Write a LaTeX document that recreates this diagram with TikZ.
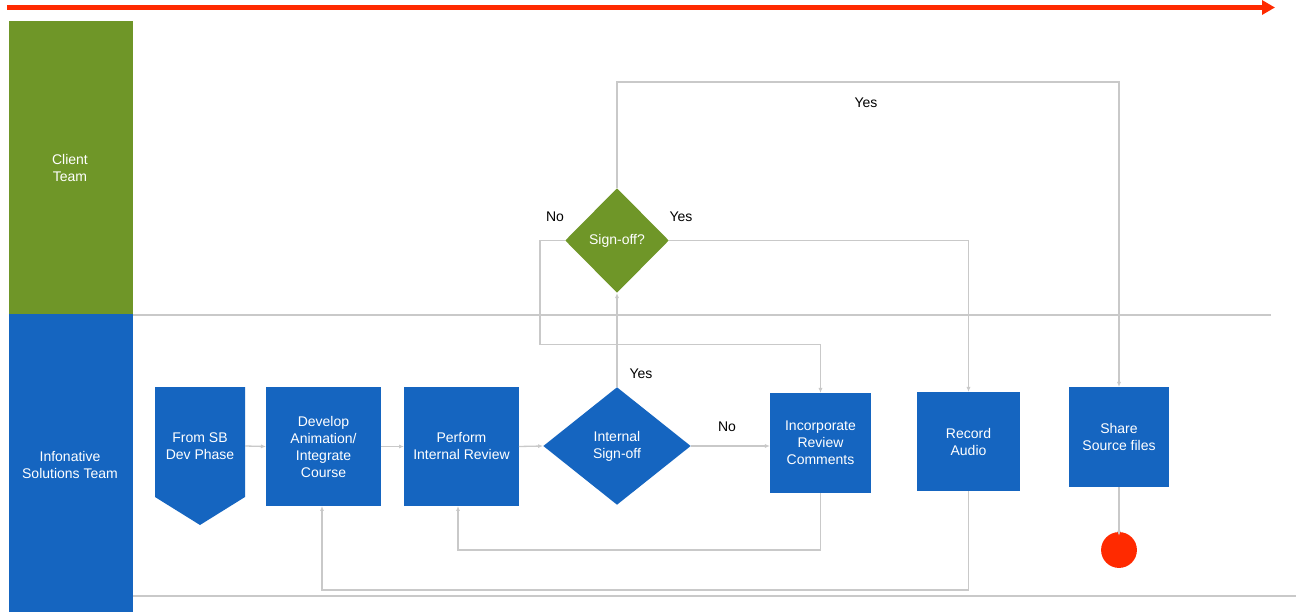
\documentclass[tikz,border=0pt]{standalone}
\usepackage{fontspec}
\setmainfont{Liberation Sans}
\usetikzlibrary{shapes.geometric,arrows.meta}
\definecolor{laneGreen}{HTML}{6F9628}
\definecolor{laneBlue}{HTML}{1565C0}
\definecolor{flowRed}{HTML}{FF2A00}
\definecolor{wire}{HTML}{C9C9C9}
\tikzset{
  lbl/.style={font=\fontsize{14bp}{17bp}\selectfont, align=center, inner sep=0},
  proc/.style={lbl, fill=laneBlue, text=white, minimum width=#1, minimum height=100},
  textonly/.style={lbl, text=white},
  decision/.style={diamond, aspect=1, inner sep=0, lbl, text=white},
  conn/.style={draw=wire, line width=1.3bp, -{Latex[length=5bp,width=4bp]}},
  lane/.style={draw=wire, line width=1.8bp},
  note/.style={lbl, text=black}
}
\begin{document}
\begin{tikzpicture}[x=1bp,y=-1bp]
\useasboundingbox (0,0) rectangle (1296,612);
\fill[white] (0,0) rectangle (1296,612);

% timeline arrow
\coordinate (tl0) at (7,7.5);
\coordinate (tl1) at (1275,7.5);
\draw[flowRed, line width=5bp, -{Triangle[length=13bp,width=14bp]}] (tl0) -- (tl1);

% swimlane headers
\fill[laneGreen] (9,21) rectangle (133,314);
\fill[laneBlue] (9,314) rectangle (133,612);
\node[textonly] (client) at (70,168) {Client\\Team};
\node[textonly] (info) at (70,465) {Infonative\\Solutions Team};

% swimlane separators
\coordinate (s1a) at (133,315);
\coordinate (s1b) at (1271,315);
\coordinate (s2a) at (133,596);
\coordinate (s2b) at (1296,596);
\draw[lane] (s1a) -- (s1b);
\draw[lane] (s2a) -- (s2b);

% off-page connector shape
\fill[laneBlue] (155,387) -- (245,387) -- (245,497) -- (200,525) -- (155,497) -- cycle;
\node[textonly, minimum width=90, minimum height=118] (sb) at (200,446) {From SB\\Dev Phase};

% process steps
\node[proc=115, minimum height=119] (dev) at (323.5,446.5) {Develop\\Animation/\\Integrate\\Course};
\node[proc=115, minimum height=119] (perf) at (461.5,446.5) {Perform\\Internal Review};
\node[decision, fill=laneBlue, minimum width=148, minimum height=118] (isf) at (617,446) {Internal\\Sign-off};
\node[proc=101, minimum height=100] (inc) at (820.5,443) {Incorporate\\Review\\Comments};
\node[proc=103, minimum height=99] (rec) at (968.5,441.5) {Record\\Audio};
\node[proc=101, minimum height=100] (share) at (1119,437) {Share\\Source files};
\node[decision, fill=laneGreen, minimum width=104, minimum height=105] (so) at (617,240.5) {Sign-off?};
\node[circle, fill=flowRed, minimum size=36, inner sep=0] (end) at (1119,550) {};

% flow
\draw[conn] (sb.east) -- (dev.west);
\draw[conn] (dev.east) -- (perf.west);
\draw[conn] (perf.east) -- (isf.west);
\draw[conn] (isf.east) -- (isf.east -| inc.west);
\draw[conn] (isf.north) -- (so.south);
\draw[conn] (inc.south) -- ++(0,57) -| ([xshift=-3.5]perf.south);
\draw[conn] (rec.south) -- ++(0,99) -| ([xshift=-1.5]dev.south);
\draw[conn] (so.west) -| ++(-25,104) -| (inc.north);
\draw[conn] (so.east) -| (rec.north);
\draw[conn] (so.north) -- ++(0,-106) -| (share.north);
\draw[conn] (share.south) -- ([yshift=-4]end.north);

% branch labels
\node[note] (n1) at (555,217) {No};
\node[note] (y1) at (681,217) {Yes};
\node[note] (y2) at (866,103) {Yes};
\node[note] (y3) at (641,374) {Yes};
\node[note] (n2) at (727,427) {No};
\end{tikzpicture}
\end{document}
